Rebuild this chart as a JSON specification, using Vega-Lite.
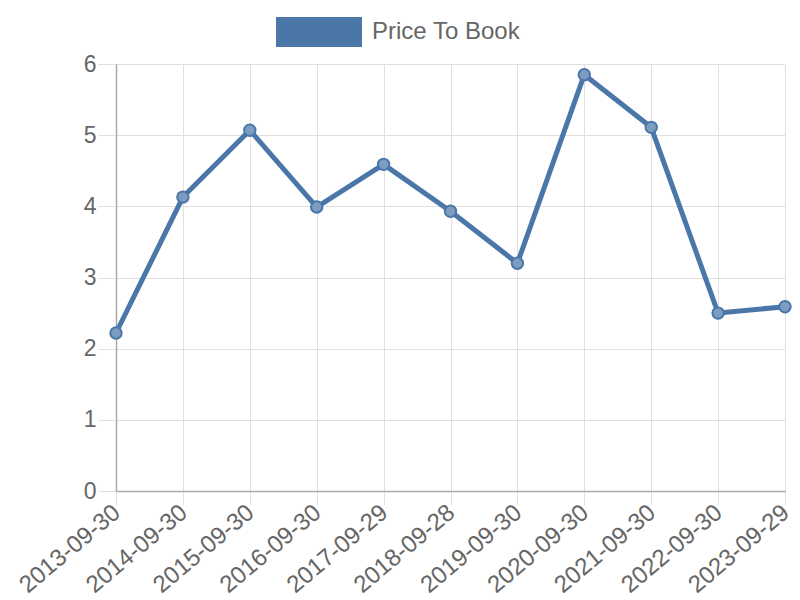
{
  "$schema": "https://vega.github.io/schema/vega-lite/v6.json",
  "width": 669,
  "height": 427,
  "autosize": {"type": "none"},
  "padding": {"left": 116, "top": 64, "right": 15, "bottom": 109},
  "background": "white",
  "config": {
    "view": {"stroke": null},
    "font": "Liberation Sans"
  },
  "data": {
    "values": [
      {"date": "2013-09-30", "value": 2.22, "series": "Price To Book"},
      {"date": "2014-09-30", "value": 4.13, "series": "Price To Book"},
      {"date": "2015-09-30", "value": 5.07, "series": "Price To Book"},
      {"date": "2016-09-30", "value": 3.99, "series": "Price To Book"},
      {"date": "2017-09-29", "value": 4.59, "series": "Price To Book"},
      {"date": "2018-09-28", "value": 3.93, "series": "Price To Book"},
      {"date": "2019-09-30", "value": 3.2, "series": "Price To Book"},
      {"date": "2020-09-30", "value": 5.85, "series": "Price To Book"},
      {"date": "2021-09-30", "value": 5.11, "series": "Price To Book"},
      {"date": "2022-09-30", "value": 2.5, "series": "Price To Book"},
      {"date": "2023-09-29", "value": 2.59, "series": "Price To Book"}
    ]
  },
  "encoding": {
    "x": {
      "field": "date",
      "type": "ordinal",
      "sort": null,
      "scale": {"type": "point", "padding": 0},
      "axis": {
        "title": null,
        "labelAngle": -40,
        "labelAlign": "right",
        "labelBaseline": "top",
        "labelFontSize": 24,
        "labelColor": "#666666",
        "labelPadding": -5,
        "labelOffset": -7,
        "tickSize": 14,
        "tickColor": "#e0e0e0",
        "domainColor": "#aaaaaa",
        "domainWidth": 1.5,
        "grid": true,
        "gridColor": "#e0e0e0",
        "gridWidth": 1
      }
    },
    "y": {
      "field": "value",
      "type": "quantitative",
      "scale": {"domain": [0, 6], "nice": false},
      "axis": {
        "title": null,
        "values": [0, 1, 2, 3, 4, 5, 6],
        "labelFontSize": 23,
        "labelColor": "#666666",
        "labelPadding": 2,
        "tickSize": 18,
        "tickColor": "#e0e0e0",
        "domainColor": "#aaaaaa",
        "domainWidth": 1.5,
        "grid": true,
        "gridColor": "#e0e0e0",
        "gridWidth": 1
      }
    }
  },
  "layer": [
    {
      "mark": {"type": "line", "strokeWidth": 5, "strokeJoin": "round"},
      "encoding": {
        "color": {
          "field": "series",
          "type": "nominal",
          "scale": {"range": ["#4a77a8"]},
          "legend": {
            "title": null,
            "orient": "none",
            "legendX": 160,
            "legendY": -75,
            "symbolType": "M-1,-0.349H1V0.349H-1Z",
            "symbolSize": 7396,
            "symbolStrokeWidth": 0,
            "symbolFillColor": "#4a77a8",
            "labelFontSize": 24,
            "labelColor": "#666666",
            "labelOffset": 10,
            "padding": 0
          }
        }
      }
    },
    {
      "mark": {"type": "point", "filled": true, "size": 130, "fill": "#7d9cc2", "stroke": "#4a77a8", "strokeWidth": 2, "opacity": 1}
    }
  ]
}
